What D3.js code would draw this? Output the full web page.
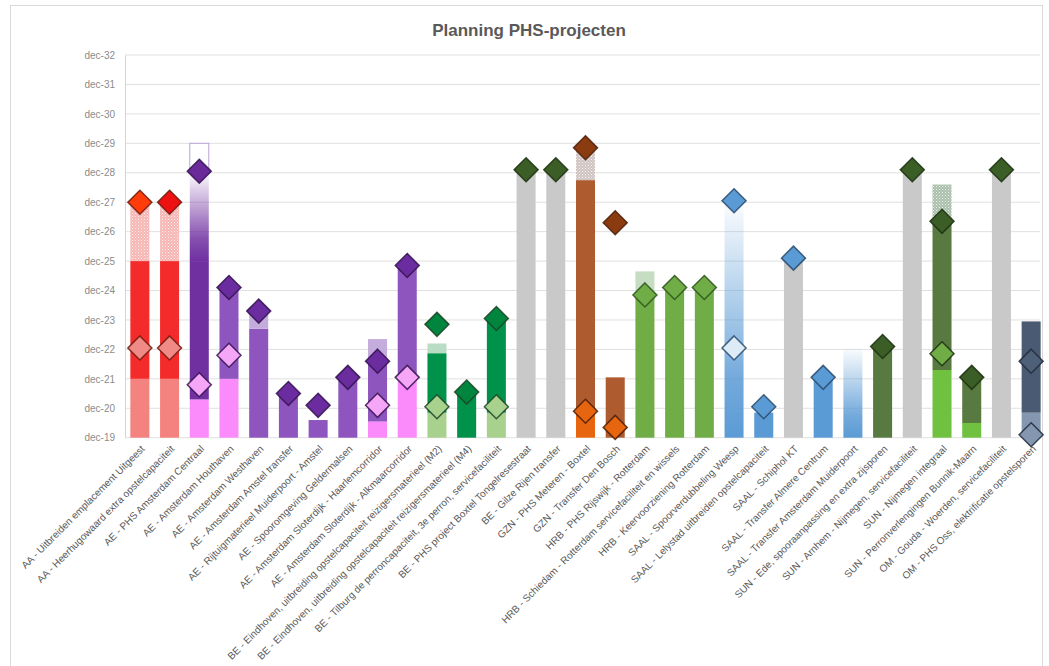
<!DOCTYPE html>
<html>
<head>
<meta charset="utf-8">
<script src="https://cdn.jsdelivr.net/npm/d3@7"></script>
<style>
  body { margin: 0; background: #fff; }
  svg { font-family: 'Liberation Sans', Arial, sans-serif; }
</style>
</head>
<body>
<div id="chart"></div>
<script>
// projects (x categories)
const projects = [
  'AA - Uitbreiden emplacement Uitgeest',
  'AA - Heerhugowaard extra opstelcapaciteit',
  'AE - PHS Amsterdam Centraal',
  'AE - Amsterdam Houthaven',
  'AE - Amsterdam Westhaven',
  'AE - Amsterdam Amstel transfer',
  'AE - Rijtuigmaterieel Muiderpoort - Amstel',
  'AE - Spooromgeving Geldermalsen',
  'AE - Amsterdam Sloterdijk - Haarlemcorridor',
  'AE - Amsterdam Sloterdijk - Alkmaarcorridor',
  'BE - Eindhoven, uitbreiding opstelcapaciteit reizigersmaterieel (M2)',
  'BE - Eindhoven, uitbreiding opstelcapaciteit reizigersmaterieel (M4)',
  'BE - Tilburg de perroncapaciteit, 3e perron, servicefaciliteit',
  'BE - PHS project Boxtel Tongelresestraat',
  'BE - Gilze Rijen transfer',
  'GZN - PHS Meteren - Boxtel',
  'GZN - Transfer Den Bosch',
  'HRB - PHS Rijswijk - Rotterdam',
  'HRB - Schiedam - Rotterdam servicefaciliteit en wissels',
  'HRB - Keervoorziening Rotterdam',
  'SAAL - Spoorverdubbeling Weesp',
  'SAAL - Lelystad uitbreiden opstelcapaciteit',
  'SAAL - Schiphol KT',
  'SAAL - Transfer Almere Centrum',
  'SAAL - Transfer Amsterdam Muiderpoort',
  'SUN - Ede, spooraanpassing en extra zijsporen',
  'SUN - Arnhem - Nijmegen, servicefaciliteit',
  'SUN - Nijmegen integraal',
  'SUN - Perronverlengingen Bunnik-Maarn',
  'OM - Gouda - Woerden, servicefaciliteit',
  'OM - PHS Oss, elektrificatie opstelsporen'
];

// colour group of each project
const groups = [
  'rood', 'roodB', 'paarsDonker', 'paars', 'paars', 'paars', 'paars', 'paars', 'paars', 'paars',
  'groen', 'groen', 'groen', 'olijf', 'olijf', 'bruin', 'bruin',
  'lichtgroen', 'lichtgroen', 'lichtgroen',
  'blauw', 'blauw', 'blauw', 'blauw', 'blauw',
  'olijf', 'olijf', 'olijf', 'olijf', 'olijf', 'leisteen'
];

// phase end dates (dec-YY), stacked up from dec-19
const phaseEnds = [
  [21, 25, 27], [21, 25, 27], [20.3, 25, 28, 29], [21, 24.05], [22.7, 23.2],
  [20.45], [19.6], [21], [19.55, 21.6, 22.35], [20.95, 24.85],
  [19.85, 21.87, 22.2], [20.5], [19.85, 23.05], [28.1], [28.1],
  [19.85, 27.75, 28.85], [21.05], [23.85, 24.65], [24.1], [24.1],
  [27.05], [19.85], [25], [21.05], [22.05],
  [22.1], [28.1], [21.3, 26.35, 27.6], [19.5, 21.05], [28.1], [19.85, 22.95]
];

// phase type per segment: a = voorbereiding, b = realisatie, c = marge,
// h = onzeker, g = indicatief, o = optie, n = nog niet gepland
const phaseTypes = [
  ['a', 'b', 'h'], ['a', 'b', 'h'], ['a', 'b', 'g', 'o'], ['a', 'b'], ['b', 'c'],
  ['b'], ['b'], ['b'], ['a', 'b', 'c'], ['a', 'b'],
  ['a', 'b', 'c'], ['b'], ['a', 'b'], ['n'], ['n'],
  ['a', 'b', 'h'], ['b'], ['b', 'c'], ['b'], ['b'],
  ['g'], ['b'], ['n'], ['b'], ['g'],
  ['b'], ['n'], ['a', 'b', 'h'], ['a', 'b'], ['n'], ['a', 'b']
];

// milestones (large diamond) and earlier milestones (light diamond)
const milestone = [
  27, 27, 28.05, 24.1, 23.3, 20.5, 20.1, 21.05, 21.6, 24.85,
  22.85, 20.55, 23.05, 28.1, 28.1, 28.85, 26.3, 23.85, 24.1, 24.1,
  27.05, 20.05, 25.1, 21.05, null, 22.1, 28.1, 26.35, 21.05, 28.1, 21.6
];
const earlyMilestone = [
  22.05, 22.05, 20.8, 21.8, null, null, null, null, 20.1, 21.05,
  20.05, null, 20.05, null, null, 19.9, 19.35, null, null, null,
  22.05, null, null, null, null, null, null, 21.85, null, null, 19.1
];

const yTicks = [19, 20, 21, 22, 23, 24, 25, 26, 27, 28, 29, 30, 31, 32];
const yTickLabels = ['dec-19', 'dec-20', 'dec-21', 'dec-22', 'dec-23', 'dec-24', 'dec-25',
  'dec-26', 'dec-27', 'dec-28', 'dec-29', 'dec-30', 'dec-31', 'dec-32'];

// colours per group
const palette = {
  rood:        { a: '#f4837f', b: '#f42b2b', h: '#f6b4b2', mark: '#ff3c0a', low: '#f08a86', line: '#6e1a0c' },
  roodB:       { a: '#f4837f', b: '#f42b2b', h: '#f6b4b2', mark: '#ee1111', low: '#f08a86', line: '#6e1a0c' },
  paarsDonker: { a: '#fb8afb', b: '#7030a0', g: '#7030a0', o: '#b6a4d6', mark: '#6a2a9a', low: '#f5a6f7', line: '#34124f' },
  paars:       { a: '#fb8afb', b: '#8d55bd', c: '#c4addd', mark: '#6a2c9e', low: '#f5a6f7', line: '#34124f' },
  groen:       { a: '#a9d18e', b: '#00924a', c: '#b9dcc4', mark: '#00853f', low: '#a9d18e', line: '#1c4424' },
  bruin:       { a: '#e8650f', b: '#ad5b2f', h: '#cfc4c2', mark: '#8b3b10', low: '#e8650f', line: '#4a1f08' },
  lichtgroen:  { b: '#70ad47', c: '#c6dcc3', mark: '#70ad47', low: '#a9d18e', line: '#2c531b' },
  blauw:       { b: '#5b9bd5', g: '#5b9bd5', n: '#c9c9c9', mark: '#5b9bd5', low: '#ddebf7', line: '#284a6c' },
  olijf:       { a: '#6fc13f', b: '#587a40', h: '#a9bfab', n: '#c9c9c9', mark: '#3a5e25', low: '#70ad47', line: '#1c2f10' },
  leisteen:    { a: '#8497b0', b: '#4a5a72', mark: '#4e5f78', low: '#8497b0', line: '#212a38' }
};

const width = 1049;
const height = 666;
const plotLeft = 125, plotRight = 1046, plotTop = 55, plotBottom = 437.7;

const svg = d3.select('#chart')
  .append('svg')
  .attr('width', width)
  .attr('height', height);

// chart frame
svg.append('rect')
  .attr('x', 10.5).attr('y', 5.5)
  .attr('width', 1032).attr('height', 700)
  .attr('fill', '#fff')
  .attr('stroke', '#d9d9d9');

// title
svg.append('text')
  .attr('x', 529).attr('y', 36)
  .attr('text-anchor', 'middle')
  .attr('font-size', 17)
  .attr('font-weight', 'bold')
  .attr('fill', '#595959')
  .text('Planning PHS-projecten');

// scales
const x = d3.scaleBand().domain(projects).range([plotLeft, plotRight]).paddingInner(0.36).paddingOuter(0.18);
const y = d3.scaleLinear().domain([19, 32]).range([plotBottom, plotTop]);

// patterns + gradients
const defs = svg.append('defs');
Object.entries(palette).forEach(([key, p]) => {
  if (p.h) {
    const pat = defs.append('pattern')
      .attr('id', 'hatch-' + key)
      .attr('width', 3).attr('height', 3)
      .attr('patternUnits', 'userSpaceOnUse');
    pat.append('rect').attr('width', 3).attr('height', 3).attr('fill', p.h);
    pat.append('rect').attr('width', 1).attr('height', 1).attr('fill', '#fff').attr('opacity', 0.8);
    pat.append('rect').attr('x', 1.5).attr('y', 1.5).attr('width', 1).attr('height', 1).attr('fill', '#fff').attr('opacity', 0.6);
  }
  if (p.g) {
    const grad = defs.append('linearGradient')
      .attr('id', 'grad-' + key)
      .attr('x1', 0).attr('y1', 1).attr('x2', 0).attr('y2', 0);
    grad.append('stop').attr('offset', 0).attr('stop-color', p.g);
    grad.append('stop').attr('offset', 0.25).attr('stop-color', p.g).attr('stop-opacity', 0.85);
    grad.append('stop').attr('offset', 1).attr('stop-color', p.g).attr('stop-opacity', 0.02);
  }
});

function fillFor(key, type) {
  const p = palette[key];
  if (type === 'h') return 'url(#hatch-' + key + ')';
  if (type === 'g') return 'url(#grad-' + key + ')';
  if (type === 'o') return '#fff';
  return p[type];
}

// gridlines
svg.append('g')
  .selectAll('line')
  .data(yTicks)
  .join('line')
  .attr('x1', plotLeft).attr('x2', 1040)
  .attr('y1', d => y(d)).attr('y2', d => y(d))
  .attr('stroke', '#e0e0e0')
  .attr('stroke-width', 1);

// y axis
const yAxis = d3.axisLeft(y)
  .tickValues(yTicks)
  .tickFormat((d, i) => yTickLabels[i])
  .tickSize(0)
  .tickPadding(10);
const gy = svg.append('g')
  .attr('transform', `translate(${plotLeft}, 0)`)
  .call(yAxis);
gy.select('.domain').attr('stroke', '#cfd4e6');
gy.selectAll('text')
  .attr('font-family', "'Liberation Sans', Arial, sans-serif")
  .attr('font-size', 10)
  .attr('fill', '#8c8c8c');

// stacked phase segments
const segments = [];
projects.forEach((name, i) => {
  let start = 19;
  phaseEnds[i].forEach((end, j) => {
    segments.push({ name, group: groups[i], type: phaseTypes[i][j], start, end });
    start = end;
  });
});

svg.append('g')
  .selectAll('rect')
  .data(segments)
  .join('rect')
  .attr('x', d => x(d.name))
  .attr('width', x.bandwidth())
  .attr('y', d => y(d.end))
  .attr('height', d => y(d.start) - y(d.end))
  .attr('fill', d => fillFor(d.group, d.type))
  .attr('stroke', d => d.type === 'o' ? palette[d.group].o : 'none')
  .attr('stroke-width', 1);

// diamonds
const r = 12;
const diamond = `M0,${-r}L${r},0L0,${r}L${-r},0Z`;
const marks = [];
projects.forEach((name, i) => {
  if (earlyMilestone[i] != null) marks.push({ name, group: groups[i], v: earlyMilestone[i], fill: palette[groups[i]].low });
  if (milestone[i] != null) marks.push({ name, group: groups[i], v: milestone[i], fill: palette[groups[i]].mark });
});

svg.append('g')
  .selectAll('path')
  .data(marks)
  .join('path')
  .attr('d', diamond)
  .attr('transform', d => `translate(${x(d.name) + x.bandwidth() / 2}, ${y(d.v)})`)
  .attr('fill', d => d.fill)
  .attr('stroke', d => palette[d.group].line)
  .attr('stroke-opacity', 0.85)
  .attr('stroke-width', 1.5);

// x labels
svg.append('g')
  .selectAll('text')
  .data(projects)
  .join('text')
  .attr('transform', d => `translate(${x(d) + x.bandwidth() / 2 + 3}, 447) rotate(-45)`)
  .attr('text-anchor', 'end')
  .attr('dy', '0.35em')
  .attr('font-size', 10)
  .attr('fill', '#595959')
  .text(d => d);
</script>
</body>
</html>
